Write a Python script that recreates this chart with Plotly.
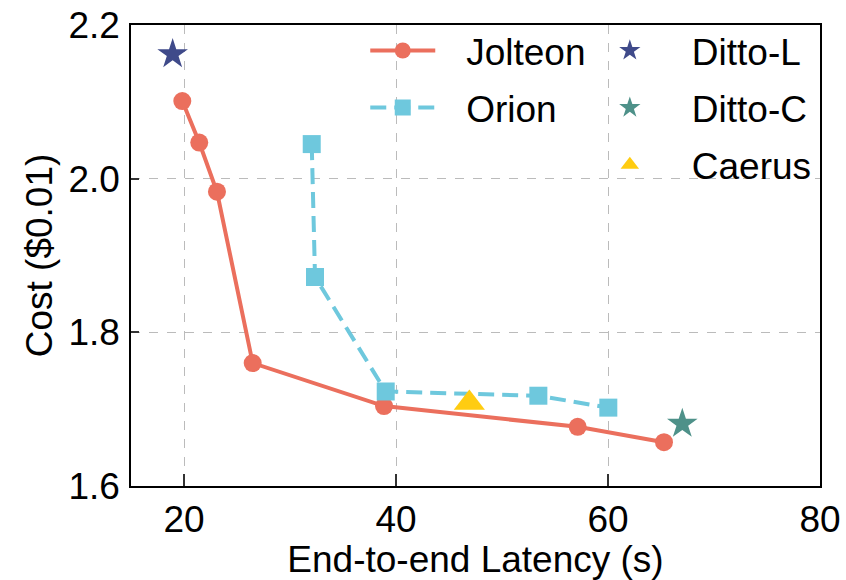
import plotly.graph_objects as go

# Data
jolteon_x = [19.84, 21.44, 23.11, 26.48, 38.87, 57.14, 65.28]
jolteon_y = [2.101, 2.047, 1.983, 1.760, 1.704, 1.677, 1.657]

orion_x = [32.05, 32.36, 39.03, 53.43, 60.03]
orion_y = [2.045, 1.872, 1.723, 1.7175, 1.702]

dittol_x = [18.93]
dittol_y = [2.162]

dittoc_x = [67.01]
dittoc_y = [1.681]

caerus_x = [46.92]
caerus_y = [1.708]

x_ticks = [20, 40, 60, 80]
y_ticks = [1.6, 1.8, 2.0, 2.2]

FONT = "Liberation Sans, Arial, Helvetica, sans-serif"
PAD = "\u2002\u2009"  # visual gap between legend symbol and label

fig = go.Figure()

fig.add_trace(go.Scatter(
    x=jolteon_x, y=jolteon_y, name=PAD + "Jolteon", mode="lines+markers",
    line=dict(color="#EB6F5D", width=4),
    marker=dict(symbol="circle", size=18, color="#EB6F5D"),
    legend="legend", legendgroup="j",
))
fig.add_trace(go.Scatter(
    x=orion_x, y=orion_y, name=PAD + "Orion", mode="lines+markers",
    line=dict(color="#6EC8DD", width=4, dash="16px,8px"),
    marker=dict(symbol="square", size=18, color="#6EC8DD"),
    legend="legend", legendgroup="o",
))
fig.add_trace(go.Scatter(
    x=dittol_x, y=dittol_y, name="Ditto-L", mode="markers",
    marker=dict(symbol="star", size=23, color="#3F4A8A"),
    legend="legend2", legendgroup="dl",
))
fig.add_trace(go.Scatter(
    x=dittoc_x, y=dittoc_y, name="Ditto-C", mode="markers",
    marker=dict(symbol="star", size=23, color="#4E9189"),
    legend="legend2", legendgroup="dc",
))
fig.add_trace(go.Scatter(
    x=caerus_x, y=caerus_y, name="Caerus", mode="markers",
    marker=dict(symbol="triangle-up", size=27, color="#FFCC11"),
    legend="legend2", legendgroup="c",
))

axis_common = dict(
    showline=True, linecolor="black", linewidth=1.5, mirror=True,
    ticks="inside", tickcolor="#333", tickwidth=1.5,
    showgrid=True, gridcolor="#BBBBBB", gridwidth=1, griddash="dash",
    zeroline=False, automargin=False,
    tickfont=dict(family=FONT, size=37, color="black"),
)

fig.update_xaxes(
    range=[15, 80], tickvals=x_ticks, ticktext=[str(v) for v in x_ticks],
    ticklen=12,
    title=dict(text="End-to-end Latency (s)", font=dict(family=FONT, size=37, color="black"), standoff=8),
    **axis_common,
)
fig.update_yaxes(
    range=[1.6, 2.2], tickvals=y_ticks, ticktext=[f"{v:.1f}" for v in y_ticks],
    ticklen=8, ticklabelstandoff=2,
    title=dict(text="Cost ($0.01)", font=dict(family=FONT, size=37, color="black"), standoff=4),
    **axis_common,
)

legend_common = dict(
    font=dict(family=FONT, size=37, color="black"),
    bgcolor="rgba(0,0,0,0)", borderwidth=0,
    xanchor="left", yanchor="top", tracegroupgap=6, traceorder="grouped",
)

fig.update_layout(
    template="none",
    width=846, height=580,
    margin=dict(l=131, r=26, t=25, b=94),
    plot_bgcolor="white", paper_bgcolor="white",
    font=dict(family=FONT, size=37, color="black"),
    legend=dict(x=0.34, y=1.011, itemwidth=65, **legend_common),
    legend2=dict(x=0.634, y=1.011, itemwidth=114, **legend_common),
    showlegend=True,
)

fig.write_html(
    "out.html",
    config={"displayModeBar": False},
    post_script="document.body.style.margin='0';document.body.style.overflow='hidden';",
)
